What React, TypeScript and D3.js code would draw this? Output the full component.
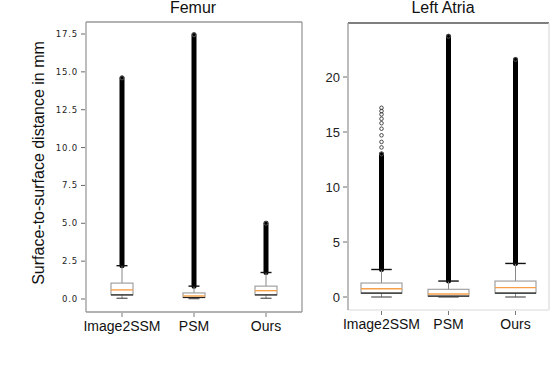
import React from "react";
import * as d3 from "d3";

// categories shared by both panels
const methods = ["Image2SSM", "PSM", "Ours"];

// Femur box stats (mm): whisker low, q1, median, q3, whisker high, outlier top
const femurLow = [0.05, 0.02, 0.05];
const femurQ1 = [0.27, 0.1, 0.27];
const femurMed = [0.6, 0.2, 0.55];
const femurQ3 = [1.05, 0.4, 0.85];
const femurHigh = [2.2, 0.85, 1.75];
const femurFlierTop = [14.6, 17.45, 5.0];
const femurTicks = [0, 2.5, 5, 7.5, 10, 12.5, 15, 17.5];

// Left Atria box stats (mm)
const laLow = [0.0, 0.0, 0.0];
const laQ1 = [0.36, 0.08, 0.36];
const laMed = [0.75, 0.27, 0.85];
const laQ3 = [1.27, 0.7, 1.45];
const laHigh = [2.5, 1.45, 3.05];
const laFlierDense = [13.0, 23.7, 21.6];
const laSparse = [13.6, 14.1, 14.7, 15.3, 15.8, 16.2, 16.6, 16.9, 17.2];
const laTicks = [0, 5, 10, 15, 20];

const W = 552;
const H = 368;

type Panel = {
  title: string;
  x0: number; x1: number; y0: number; y1: number;
  domainMax: number; yTop: number; yZero: number;
  low: number[]; q1: number[]; med: number[]; q3: number[]; high: number[];
  flierTop: number[];
  ticks: number[];
  tickFmt: (v: number) => string;
  boxW: number;
  tickFont: React.CSSProperties;
  frame: string[]; // top, right, bottom, left colours
  titleX: number;
};

const BoxPanel = ({ p, sparse }: { p: Panel; sparse?: number[] }) => {
  const x = d3.scalePoint<string>().domain(methods).range([p.x0, p.x1]).padding(0.5);
  const y = d3.scaleLinear().domain([0, p.domainMax]).range([p.yZero, p.yTop]);
  const hw = p.boxW / 2;
  const cw = p.boxW / 4;
  return (
    <g>
      <text x={p.titleX} y={12.5} textAnchor="middle" fontSize={16}
        fontFamily="Liberation Sans, Arial, sans-serif" fill="#111">{p.title}</text>

      {/* frame */}
      <line x1={p.x0} x2={p.x1} y1={p.y0} y2={p.y0} stroke={p.frame[0]} strokeWidth={1.3} />
      <line x1={p.x1} x2={p.x1} y1={p.y0} y2={p.y1} stroke={p.frame[1]} strokeWidth={1.3} />
      <line x1={p.x0} x2={p.x1} y1={p.y1} y2={p.y1} stroke={p.frame[2]} strokeWidth={1.3} />
      <line x1={p.x0} x2={p.x0} y1={p.y0} y2={p.y1} stroke={p.frame[3]} strokeWidth={1.3} />

      {/* y ticks */}
      {p.ticks.map((t) => (
        <g key={t} transform={`translate(${p.x0},${y(t)})`}>
          <line x1={-5} x2={-1} stroke="#444" strokeWidth={0.8} />
          <text x={-8} dy="0.35em" textAnchor="end" style={p.tickFont} fill="#222">{p.tickFmt(t)}</text>
        </g>
      ))}

      {/* x ticks and labels */}
      {methods.map((m) => (
        <g key={m} transform={`translate(${x(m)},${p.y1})`}>
          <line y1={1} y2={5} stroke="#555" strokeWidth={0.8} />
          <text y={19} textAnchor="middle" fontSize={14}
            fontFamily="Liberation Sans, Arial, sans-serif" fill="#111">{m}</text>
        </g>
      ))}

      {methods.map((m, i) => {
        const cx = x(m) as number;
        return (
          <g key={m}>
            {/* dense fliers */}
            <line x1={cx} x2={cx} y1={y(p.high[i])} y2={y(p.flierTop[i])}
              stroke="#000" strokeWidth={5} strokeLinecap="round" />
            <circle cx={cx} cy={y(p.flierTop[i])} r={2} fill="none" stroke="#666" strokeWidth={0.8} />
            {/* whiskers */}
            <line x1={cx} x2={cx} y1={y(p.q3[i])} y2={y(p.high[i])} stroke="#888" strokeWidth={1} />
            <line x1={cx} x2={cx} y1={y(p.q1[i])} y2={y(p.low[i])} stroke="#888" strokeWidth={1} />
            <line x1={cx - cw} x2={cx + cw} y1={y(p.high[i])} y2={y(p.high[i])} stroke="#111" strokeWidth={1.4} />
            <line x1={cx - cw} x2={cx + cw} y1={y(p.low[i])} y2={y(p.low[i])} stroke="#444" strokeWidth={1.1} />
            {/* box */}
            <rect x={cx - hw} width={p.boxW} y={y(p.q3[i])} height={y(p.q1[i]) - y(p.q3[i])}
              fill="#fff" stroke="#999" strokeWidth={1.1} />
            <line x1={cx - hw} x2={cx + hw} y1={y(p.q1[i])} y2={y(p.q1[i])} stroke="#222" strokeWidth={1.2} />
            <line x1={cx - hw} x2={cx + hw} y1={y(p.med[i])} y2={y(p.med[i])} stroke="#f7a048" strokeWidth={1.4} />
          </g>
        );
      })}

      {/* sparse fliers */}
      {sparse && sparse.map((v, j) => (
        <circle key={j} cx={x(methods[0]) as number} cy={y(v)} r={1.8}
          fill="none" stroke="#222" strokeWidth={0.8} />
      ))}
    </g>
  );
};

export default function App() {
  const femur: Panel = {
    title: "Femur",
    x0: 86, x1: 302, y0: 22, y1: 312,
    domainMax: 17.5, yTop: 34, yZero: 299,
    low: femurLow, q1: femurQ1, med: femurMed, q3: femurQ3, high: femurHigh,
    flierTop: femurFlierTop,
    ticks: femurTicks,
    tickFmt: d3.format(".1f"),
    boxW: 22,
    tickFont: { fontFamily: "DejaVu Sans, sans-serif", fontSize: 8.5, letterSpacing: 0.8 },
    frame: ["#999", "#999", "#999", "#999"],
    titleX: 193,
  };
  const atria: Panel = {
    title: "Left Atria",
    x0: 348, x1: 549, y0: 23, y1: 310,
    domainMax: 20, yTop: 77, yZero: 297,
    low: laLow, q1: laQ1, med: laMed, q3: laQ3, high: laHigh,
    flierTop: laFlierDense,
    ticks: laTicks,
    tickFmt: d3.format("d"),
    boxW: 41,
    tickFont: { fontFamily: "Liberation Sans, Arial, sans-serif", fontSize: 13 },
    frame: ["#555", "#ddd", "#e6e6e6", "#999"],
    titleX: 443,
  };

  return (
    <svg width={W} height={H} style={{ position: "absolute", left: 0, top: 0, background: "#fff" }}>
      <text transform="translate(44,163) rotate(-90)" textAnchor="middle" fontSize={16}
        fontFamily="Liberation Sans, Arial, sans-serif" fill="#111">Surface-to-surface distance in mm</text>
      <BoxPanel p={femur} />
      <BoxPanel p={atria} sparse={laSparse} />
      <text x={-2} y={381} fontSize={17} fontFamily="Liberation Serif, serif" fill="#444">
        2: The surface-to-surface distance between predicted and ground truth meshes
      </text>
    </svg>
  );
}
